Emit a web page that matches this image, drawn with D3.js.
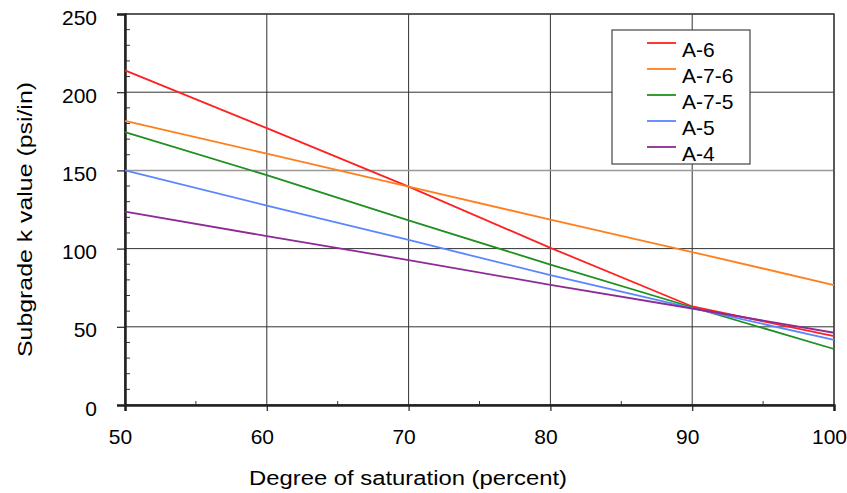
<!DOCTYPE html>
<html>
<head>
<meta charset="utf-8">
<script src="https://d3js.org/d3.v7.min.js"></script>
<style>
body { margin: 0; background: #fff; }
text { font-family: "Liberation Sans", Arial, sans-serif; fill: #000; }
</style>
</head>
<body>
<svg width="847" height="493"></svg>
<script>
// saturation values (percent)
var saturation = [50, 60, 70, 80, 90, 100];

var seriesNames = ["A-6", "A-7-6", "A-7-5", "A-5", "A-4"];
var seriesColors = ["#ff2020", "#ff7f1e", "#1e9020", "#5a86ff", "#8e2a96"];

// k values (psi/in)
var kA6 = [214, 177, 139.6, 100.5, 63, 44];
var kA76 = [181.6, 160.7, 139.6, 118.5, 97.8, 76.7];
var kA75 = [174.5, 147, 118, 89.8, 62.5, 35.8];
var kA5 = [150, 127.5, 105.5, 83, 62, 41.6];
var kA4 = [123.6, 108, 92.7, 76.8, 61.7, 46.2];

var xTicks = [50, 60, 70, 80, 90, 100];
var yTicks = [0, 50, 100, 150, 200, 250];

var allSeries = [kA6, kA76, kA75, kA5, kA4];

var svg = d3.select("svg");
var margin = {top: 14, right: 13, bottom: 88, left: 125};
var width = 847 - margin.left - margin.right;
var height = 493 - margin.top - margin.bottom;

var graph = svg.append("g")
    .attr("transform", "translate(" + margin.left + "," + margin.top + ")");

var x = d3.scaleLinear().domain([50, 100]).range([0, width]);
var y = d3.scaleLinear().domain([0, 250]).range([height, 0]);

// grid
graph.append("g")
    .selectAll("line")
    .data(xTicks)
    .enter()
    .append("line")
    .attr("x1", d => x(d)).attr("x2", d => x(d))
    .attr("y1", 0).attr("y2", height)
    .attr("stroke", "#333")
    .attr("stroke-width", 1);

graph.append("g")
    .selectAll("line")
    .data(yTicks)
    .enter()
    .append("line")
    .attr("x1", 0).attr("x2", width)
    .attr("y1", d => y(d)).attr("y2", d => y(d))
    .attr("stroke", d => d == 150 ? "#999" : "#333")
    .attr("stroke-width", d => d == 150 ? 1.5 : 1);

// frame
graph.append("rect")
    .attr("width", width).attr("height", height)
    .attr("fill", "none")
    .attr("stroke", "#444")
    .attr("stroke-width", 1.5);

// minor ticks (inside)
var yMinor = d3.range(0, 251, 10).filter(d => d % 50 != 0);
graph.append("g")
    .selectAll("line")
    .data(yMinor)
    .enter()
    .append("line")
    .attr("x1", 0).attr("x2", 5)
    .attr("y1", d => y(d)).attr("y2", d => y(d))
    .attr("stroke", "#333");

var xMinor = [55, 65, 75, 85, 95];
graph.append("g")
    .selectAll("line")
    .data(xMinor)
    .enter()
    .append("line")
    .attr("x1", d => x(d)).attr("x2", d => x(d))
    .attr("y1", height).attr("y2", height - 4)
    .attr("stroke", "#333");

// axes
var xAxis = d3.axisBottom(x).tickValues(xTicks).tickSize(6).tickPadding(18);
var yAxis = d3.axisLeft(y).tickValues(yTicks).tickSize(8).tickPadding(20);

var xAxisGroup = graph.append("g")
    .attr("transform", `translate(0, ${height})`)
    .call(xAxis);
var yAxisGroup = graph.append("g").call(yAxis);

[xAxisGroup, yAxisGroup].forEach(g => {
    g.select(".domain").attr("stroke", "#222").attr("stroke-width", 2.5);
    g.selectAll(".tick line").attr("stroke", "#222").attr("stroke-width", 1.2);
    g.selectAll("text").attr("font-size", 21).attr("font-family", "Liberation Sans, Arial, sans-serif").attr("fill", "#000");
});
yAxisGroup.selectAll("text").attr("dy", "0.48em");
xAxisGroup.selectAll("text").attr("dx", "-5px");

// lines
var line = d3.line()
    .x((d, i) => x(saturation[i]))
    .y(d => y(d));

graph.append("g")
    .selectAll("path")
    .data(allSeries)
    .enter()
    .append("path")
    .attr("d", line)
    .attr("fill", "none")
    .attr("stroke", (d, i) => seriesColors[i])
    .attr("stroke-width", 1.8);

// legend
var legend = svg.append("g").attr("transform", "translate(612,30)");
legend.append("rect")
    .attr("width", 138).attr("height", 134)
    .attr("fill", "#fff")
    .attr("stroke", "#444")
    .attr("stroke-width", 1.2);

var items = legend.selectAll("g.item")
    .data(seriesNames)
    .enter()
    .append("g")
    .attr("transform", (d, i) => "translate(0," + (13 + i * 26) + ")");

items.append("line")
    .attr("x1", 35).attr("x2", 64)
    .attr("y1", 0).attr("y2", 0)
    .attr("stroke", (d, i) => seriesColors[i])
    .attr("stroke-width", 1.8);

items.append("text")
    .attr("x", 70)
    .attr("y", 14)
    .attr("font-size", 21)
    .text(d => d);

// axis titles
svg.append("text")
    .attr("x", 249)
    .attr("y", 485)
    .attr("font-size", 20)
    .attr("textLength", 318)
    .attr("lengthAdjust", "spacingAndGlyphs")
    .text("Degree of saturation (percent)");

svg.append("text")
    .attr("transform", "translate(32,357) rotate(-90)")
    .attr("font-size", 21)
    .attr("textLength", 275)
    .attr("lengthAdjust", "spacingAndGlyphs")
    .text("Subgrade k value (psi/in)");
</script>
</body>
</html>
